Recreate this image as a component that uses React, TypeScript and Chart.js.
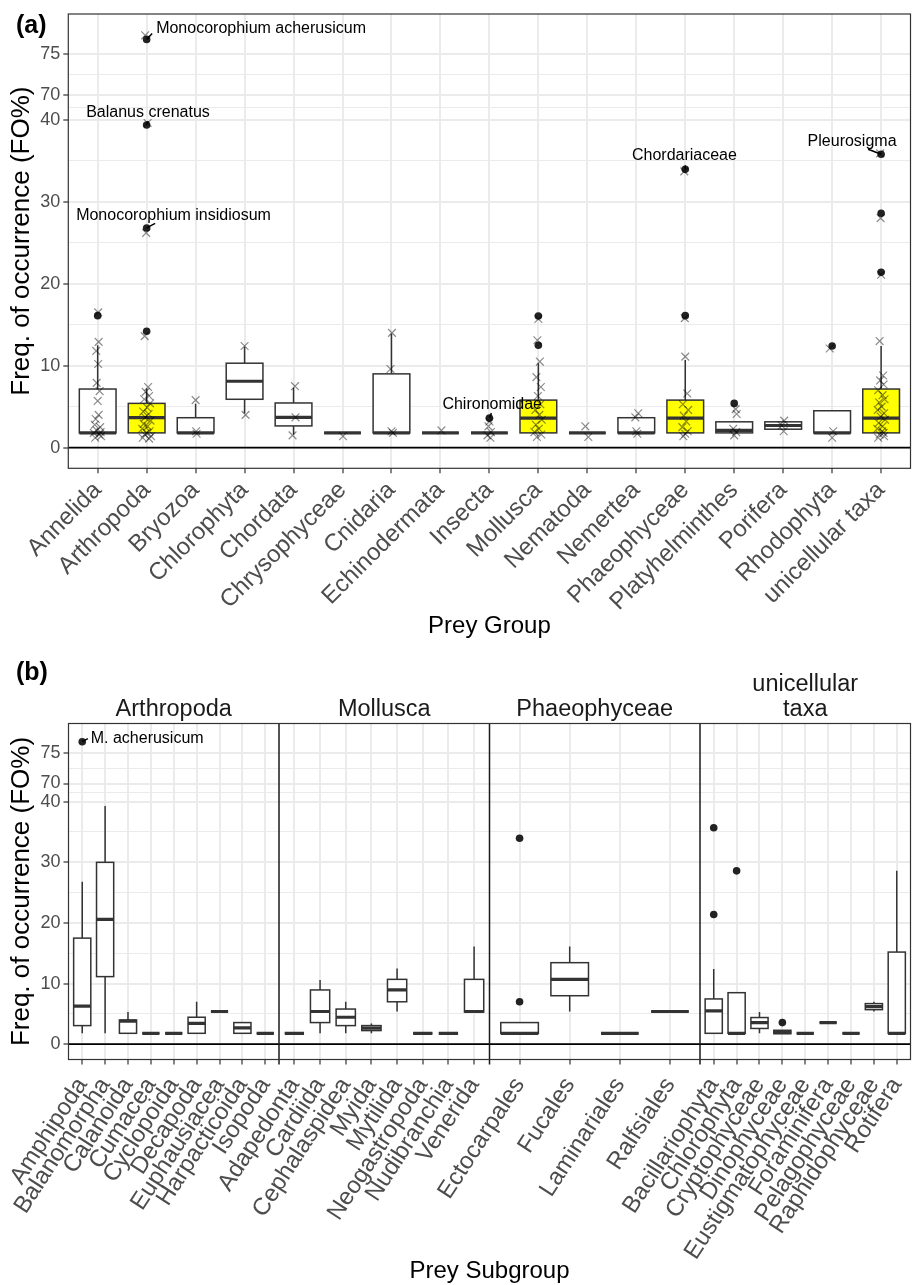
import React, { useEffect, useRef } from "react";
import { Chart, LinearScale, registerables } from "chart.js";

Chart.register(...registerables);

const FONT_FAMILY = "'Liberation Sans', Arial, Helvetica, sans-serif";
const TICK_COLOR = "#4D4D4D";
const GRID_COLOR = "#EBEBEB";
const FRAME_COLOR = "#333333";
const BOX_LINE = "#333333";
const HIGHLIGHT_FILL = "#FFFF00";
const PLAIN_FILL = "#FFFFFF";

// ---------- y axis: 40–70 is squeezed to a tenth of its length ----------
const BREAK_FROM = 40;
const BREAK_TO = 70;
const BREAK_SQUEEZE = 0.1;
const BREAK_TOP = BREAK_FROM + (BREAK_TO - BREAK_FROM) * BREAK_SQUEEZE;

function squeeze(v: number): number {
  if (v <= BREAK_FROM) return v;
  if (v < BREAK_TO) return BREAK_FROM + (v - BREAK_FROM) * BREAK_SQUEEZE;
  return BREAK_TOP + (v - BREAK_TO);
}
function unsqueeze(t: number): number {
  if (t <= BREAK_FROM) return t;
  if (t < BREAK_TOP) return BREAK_FROM + (t - BREAK_FROM) / BREAK_SQUEEZE;
  return BREAK_TO + (t - BREAK_TOP);
}

const Y_TICKS = [0, 10, 20, 30, 40, 70, 75];
const Y_MIN = -2.52;
const Y_MAX = 79.9;

class SqueezedScale extends LinearScale {
  static id = "squeezed";
  static defaults = {};
  determineDataLimits() {
    super.determineDataLimits();
    this.min = squeeze(this.min);
    this.max = squeeze(this.max);
  }
  buildTicks() {
    const ticks: any[] = [];
    Y_TICKS.forEach((v, i) => {
      ticks.push({ value: v });
      if (i < Y_TICKS.length - 1) {
        // minor line halfway between two majors on the drawn scale
        ticks.push({ value: unsqueeze((squeeze(v) + squeeze(Y_TICKS[i + 1])) / 2), minor: true });
      }
    });
    return ticks;
  }
  getPixelForValue(value: number) {
    return super.getPixelForValue(squeeze(value));
  }
  getValueForPixel(pixel: number) {
    return unsqueeze(super.getValueForPixel(pixel));
  }
}
Chart.register(SqueezedScale);

// ---------- (a) prey groups ----------
const GROUPS = [
  "Annelida", "Arthropoda", "Bryozoa", "Chlorophyta", "Chordata", "Chrysophyceae",
  "Cnidaria", "Echinodermata", "Insecta", "Mollusca", "Nematoda", "Nemertea",
  "Phaeophyceae", "Platyhelminthes", "Porifera", "Rhodophyta", "unicellular taxa",
];
const GROUPS_SPLIT = ["Arthropoda", "Mollusca", "Phaeophyceae", "unicellular taxa"];

const G_WHISKER_LO = [1.8, 1.8, 1.8, 4.2, 1.6, 1.8, 1.8, 1.8, 1.8, 1.8, 1.8, 1.8, 1.8, 1.8, 2.2, 1.8, 1.8];
const G_Q1 = [1.8, 1.8, 1.8, 5.9, 2.65, 1.8, 1.8, 1.8, 1.8, 1.8, 1.8, 1.8, 1.8, 1.8, 2.25, 1.8, 1.8];
const G_MEDIAN = [1.8, 3.65, 1.8, 8.1, 3.7, 1.8, 1.8, 1.8, 1.8, 3.6, 1.8, 1.8, 3.6, 2.1, 2.7, 1.8, 3.6];
const G_Q3 = [7.15, 5.4, 3.65, 10.3, 5.45, 1.8, 9.0, 1.8, 1.8, 5.8, 1.8, 3.65, 5.8, 3.15, 3.15, 4.5, 7.15];
const G_WHISKER_HI = [12.5, 7.2, 5.35, 12.3, 7.3, 1.8, 13.9, 1.8, 1.8, 10.3, 1.8, 3.65, 10.7, 3.15, 3.3, 4.5, 12.4];
const G_OUTLIERS = [
  [16.1], [14.2, 26.8, 39.35, 76.8], [], [], [], [], [], [], [3.6], [12.5, 16.05],
  [], [], [16.1, 33.95], [5.4], [], [12.4], [21.4, 28.6, 35.8],
];

// individual observations per group (FO%)
const G_POINTS = [
  [16.5, 12.9, 11.8, 10.2, 7.9, 6.9, 5.7, 4.0, 3.5, 2.8, 2.5, 2.1, 1.9, 1.8, 1.6, 1.4, 1.2],
  [77.3, 39.6, 26.2, 13.6, 7.4, 6.8, 6.3, 5.9, 5.4, 4.9, 4.4, 4.1, 3.7, 3.3, 2.9, 2.6, 2.3, 2.0, 1.8, 1.6, 1.4, 1.2, 1.1],
  [5.8, 2.0, 1.7],
  [12.4, 4.0],
  [7.5, 3.7, 1.5],
  [1.4],
  [14.0, 9.6, 2.0, 1.8],
  [2.1],
  [3.2, 2.6, 1.9, 1.5, 1.2],
  [15.7, 13.1, 10.5, 8.6, 7.4, 6.3, 5.3, 4.6, 4.0, 3.4, 2.8, 2.3, 1.9, 1.6, 1.3],
  [2.6, 1.3],
  [4.2, 3.7, 2.0, 1.7],
  [33.7, 15.8, 11.1, 6.6, 5.3, 4.6, 3.9, 3.2, 2.5, 2.0, 1.7, 1.4],
  [4.7, 4.1, 2.3, 1.9, 1.5],
  [3.3, 2.7, 2.0],
  [12.1, 2.0, 1.2],
  [35.9, 28.0, 21.1, 13.0, 8.8, 8.2, 7.7, 7.0, 6.4, 5.9, 5.5, 5.0, 4.6, 4.2, 3.8, 3.4, 3.0, 2.6, 2.3, 2.0, 1.8, 1.6, 1.4, 1.2],
];
// horizontal jitter of each observation, in category widths
const G_JITTER = [
  [0.01, 0.02, -0.03, 0.01, -0.02, 0.04, 0.0, 0.02, -0.04, -0.06, 0.05, -0.02, 0.06, -0.08, 0.03, 0.07, -0.05],
  [-0.03, 0.02, -0.01, -0.04, 0.03, -0.02, 0.05, -0.05, 0.07, 0.01, -0.07, 0.04, -0.03, 0.08, -0.06, 0.02, -0.09, 0.06, 0.0, -0.04, 0.09, -0.08, 0.05],
  [0.0, 0.01, 0.02],
  [0.0, 0.02],
  [0.03, 0.04, -0.02],
  [0.01],
  [0.01, -0.02, 0.0, 0.03],
  [0.02],
  [0.0, -0.02, 0.03, -0.04, 0.02],
  [0.0, -0.02, 0.03, -0.04, 0.05, -0.01, 0.04, -0.06, 0.02, 0.07, -0.05, 0.01, -0.08, 0.06, -0.03],
  [-0.04, 0.02],
  [0.04, -0.02, 0.0, 0.02],
  [-0.02, -0.01, 0.0, 0.04, -0.05, 0.06, -0.03, 0.02, -0.06, 0.05, 0.0, -0.04],
  [0.03, 0.05, -0.02, 0.04, 0.0],
  [0.02, -0.03, 0.01],
  [-0.05, 0.02, 0.0],
  [-0.02, -0.01, 0.0, -0.03, 0.04, -0.02, 0.05, -0.06, 0.03, 0.07, -0.04, 0.01, -0.07, 0.06, -0.01, 0.08, -0.05, 0.03, -0.08, 0.02, 0.05, -0.03, 0.06, -0.06],
];

// named outliers
const A_LABEL_TEXT = ["Monocorophium acherusicum", "Balanus crenatus", "Monocorophium insidiosum", "Chironomidae", "Chordariaceae", "Pleurosigma"];
const A_LABEL_GROUP = [1, 1, 1, 8, 12, 16];
const A_LABEL_VALUE = [76.8, 39.35, 26.8, 3.6, 33.95, 35.8];
// label placement relative to its point (px): text left/middle, leader end
const A_LABEL_DX = [9.5, -60.5, -70.5, -47, -53.3, -73.5];
const A_LABEL_DY = [-11, -12.7, -12.7, -13.3, -13.3, -12.6];
const A_LEADER_DX = [5.5, 1.5, 8.5, 2, 0, -13];
const A_LEADER_DY = [-6, -4, -4.5, -5, -4, -5];

// ---------- (b) prey subgroups within the four largest groups ----------
const FACETS = ["Arthropoda", "Mollusca", "Phaeophyceae", "unicellular taxa"];
const FACET_STRIPS = [["Arthropoda"], ["Mollusca"], ["Phaeophyceae"], ["unicellular", "taxa"]];
const SUBGROUPS = [
  ["Amphipoda", "Balanomorpha", "Calanoida", "Cumacea", "Cyclopoida", "Decapoda", "Euphausiacea", "Harpacticoida", "Isopoda"],
  ["Adapedonta", "Cardiida", "Cephalaspidea", "Myida", "Mytilida", "Neogastropoda", "Nudibranchia", "Venerida"],
  ["Ectocarpales", "Fucales", "Laminariales", "Ralfsiales"],
  ["Bacillariophyta", "Chlorophyta", "Cryptophyceae", "Dinophyceae", "Eustigmatophyceae", "Foraminifera", "Pelagophyceae", "Raphidophyceae", "Rotifera"],
];
const S_WHISKER_LO = [
  [1.8, 1.8, 1.8, 1.8, 1.8, 1.8, 5.4, 1.8, 1.8],
  [1.8, 1.8, 1.8, 1.8, 5.4, 1.8, 1.8, 5.3],
  [1.8, 5.4, 1.8, 5.4],
  [1.8, 1.8, 1.8, 1.75, 1.8, 3.57, 1.8, 5.4, 1.8],
];
const S_Q1 = [
  [3.07, 11.15, 1.8, 1.8, 1.8, 1.8, 5.4, 1.8, 1.8],
  [1.8, 3.57, 3.07, 2.25, 7.0, 1.8, 1.8, 5.3],
  [1.8, 8.0, 1.8, 5.4],
  [1.8, 1.8, 2.6, 1.75, 1.8, 3.57, 1.8, 5.7, 1.8],
];
const S_MEDIAN = [
  [6.3, 20.6, 3.8, 1.8, 1.8, 3.45, 5.4, 2.7, 1.8],
  [1.8, 5.4, 4.45, 2.65, 8.95, 1.8, 1.8, 5.4],
  [1.8, 10.7, 1.8, 5.4],
  [5.5, 1.8, 3.57, 1.9, 1.8, 3.57, 1.8, 6.2, 1.8],
];
const S_Q3 = [
  [17.5, 30.0, 4.0, 1.8, 1.8, 4.45, 5.4, 3.57, 1.8],
  [1.8, 8.95, 5.8, 3.07, 10.7, 1.8, 1.8, 10.7],
  [3.57, 13.45, 1.8, 5.4],
  [7.47, 8.5, 4.4, 2.3, 1.8, 3.57, 1.8, 6.7, 15.2],
];
const S_WHISKER_HI = [
  [26.8, 39.3, 5.3, 1.8, 1.8, 7.0, 5.4, 3.57, 1.8],
  [1.8, 10.6, 7.0, 3.4, 12.5, 1.8, 1.8, 16.1],
  [3.57, 16.1, 1.8, 5.4],
  [12.4, 8.5, 5.3, 2.3, 1.8, 3.57, 1.8, 7.0, 28.6],
];
const S_OUTLIERS = [
  [[76.9], [], [], [], [], [], [], [], []],
  [[], [], [], [], [], [], [], []],
  [[7.0, 33.97], [], [], []],
  [[21.4, 35.7], [28.6], [], [3.57], [], [], [], [], []],
];
const B_LABEL_TEXT = ["M. acherusicum"];
const B_LABEL_FACET = [0];
const B_LABEL_SUBGROUP = [0];
const B_LABEL_VALUE = [76.9];
const B_LABEL_DX = [8.5];
const B_LABEL_DY = [-3.4];
const B_LEADER_DX = [5.6];
const B_LEADER_DY = [-3];

// ---------- drawing helpers ----------
type Box = { pos: number; half: number; lo: number; q1: number; med: number; q3: number; hi: number; fill: string };
type Note = { x: number; y: number; text: string; dx: number; dy: number; lx: number; ly: number };

function clipToArea(chart: any) {
  const a = chart.chartArea;
  chart.ctx.beginPath();
  chart.ctx.rect(a.left, a.top, a.right - a.left, a.bottom - a.top);
  chart.ctx.clip();
}

function drawZeroLine(chart: any) {
  const { ctx, chartArea, scales } = chart;
  const y0 = scales.y.getPixelForValue(0);
  ctx.save();
  ctx.strokeStyle = "#000000";
  ctx.lineWidth = 1.8;
  ctx.beginPath();
  ctx.moveTo(chartArea.left, y0);
  ctx.lineTo(chartArea.right, y0);
  ctx.stroke();
  ctx.restore();
}

function drawBoxes(chart: any, boxes: Box[]) {
  const { ctx, scales } = chart;
  const x = scales.x;
  const y = scales.y;
  ctx.save();
  clipToArea(chart);
  ctx.strokeStyle = BOX_LINE;
  for (const b of boxes) {
    const cx = x.getPixelForValue(b.pos);
    const hw = x.getPixelForValue(b.pos + b.half) - cx;
    const yLo = y.getPixelForValue(b.lo);
    const yQ1 = y.getPixelForValue(b.q1);
    const yMed = y.getPixelForValue(b.med);
    const yQ3 = y.getPixelForValue(b.q3);
    const yHi = y.getPixelForValue(b.hi);
    ctx.lineWidth = 1.5;
    ctx.beginPath();
    ctx.moveTo(cx, yLo);
    ctx.lineTo(cx, yQ1);
    ctx.moveTo(cx, yQ3);
    ctx.lineTo(cx, yHi);
    ctx.stroke();
    ctx.fillStyle = b.fill;
    ctx.fillRect(cx - hw, yQ3, 2 * hw, yQ1 - yQ3);
    ctx.strokeRect(cx - hw, yQ3, 2 * hw, yQ1 - yQ3);
    ctx.lineWidth = 3.2;
    ctx.beginPath();
    ctx.moveTo(cx - hw, yMed);
    ctx.lineTo(cx + hw, yMed);
    ctx.stroke();
  }
  ctx.restore();
}

function drawNotes(chart: any, notes: Note[]) {
  const { ctx, scales } = chart;
  ctx.save();
  ctx.font = `16px ${FONT_FAMILY}`;
  ctx.fillStyle = "#000000";
  ctx.strokeStyle = "#000000";
  ctx.lineWidth = 1.5;
  ctx.textAlign = "left";
  ctx.textBaseline = "middle";
  for (const n of notes) {
    const px = scales.x.getPixelForValue(n.x);
    const py = scales.y.getPixelForValue(n.y);
    ctx.beginPath();
    ctx.moveTo(px, py);
    ctx.lineTo(px + n.lx, py + n.ly);
    ctx.stroke();
    ctx.fillText(n.text, px + n.dx, py + n.dy);
  }
  ctx.restore();
}

function drawFrame(chart: any) {
  const { ctx, chartArea } = chart;
  ctx.save();
  ctx.strokeStyle = FRAME_COLOR;
  ctx.lineWidth = 1.2;
  ctx.strokeRect(chartArea.left, chartArea.top, chartArea.right - chartArea.left, chartArea.bottom - chartArea.top);
  ctx.restore();
}

function drawTag(chart: any, tag: string, x: number, y: number) {
  const { ctx } = chart;
  ctx.save();
  ctx.font = `bold 25px ${FONT_FAMILY}`;
  ctx.fillStyle = "#000000";
  ctx.textAlign = "left";
  ctx.textBaseline = "alphabetic";
  ctx.fillText(tag, x, y);
  ctx.restore();
}

// keep the plotting area exactly where the layout puts it
function dropScalePadding(s: any) {
  s.paddingLeft = 0;
  s.paddingRight = 0;
  s.paddingTop = 0;
  s.paddingBottom = 0;
}

function yAxis(axisWidth: number) {
  return {
    type: "squeezed",
    position: "left",
    min: Y_MIN,
    max: Y_MAX,
    bounds: "data",
    afterFit: (s: any) => {
      s.width = axisWidth;
      dropScalePadding(s);
    },
    ticks: {
      autoSkip: false,
      padding: 3,
      color: TICK_COLOR,
      font: { family: FONT_FAMILY, size: 18 },
      callback: (v: number, i: number, ticks: any[]) => (ticks[i].minor ? "" : String(v)),
    },
    grid: {
      color: GRID_COLOR,
      lineWidth: (c: any) => (c.tick && c.tick.minor ? 1.1 : 2),
      tickColor: (c: any) => (c.tick && c.tick.minor ? "rgba(0,0,0,0)" : FRAME_COLOR),
      tickWidth: 1.2,
      tickLength: 5,
    },
    border: { display: false },
    title: {
      display: true,
      text: "Freq. of occurrence (FO%)",
      color: "#000000",
      font: { family: FONT_FAMILY, size: 26 },
      padding: { top: 6.4, bottom: 0 },
    },
  };
}

function xAxis(opts: {
  min: number;
  max: number;
  positions: number[];
  labels: string[];
  rotation: number;
  height: number;
  title: string;
  titlePad: number;
  tickPad: number;
}) {
  return {
    type: "linear",
    position: "bottom",
    min: opts.min,
    max: opts.max,
    bounds: "data",
    afterBuildTicks: (s: any) => {
      s.ticks = opts.positions.map((p) => ({ value: p }));
    },
    afterFit: (s: any) => {
      s.height = opts.height;
      dropScalePadding(s);
    },
    ticks: {
      autoSkip: false,
      minRotation: opts.rotation,
      maxRotation: opts.rotation,
      padding: opts.tickPad,
      color: TICK_COLOR,
      font: { family: FONT_FAMILY, size: 24 },
      callback: (_v: number, i: number) => opts.labels[i],
    },
    grid: {
      color: GRID_COLOR,
      lineWidth: 2,
      tickColor: FRAME_COLOR,
      tickWidth: 1.2,
      tickLength: 5,
    },
    border: { display: false },
    title: {
      display: true,
      text: opts.title,
      color: "#000000",
      font: { family: FONT_FAMILY, size: 24 },
      padding: { top: 0, bottom: opts.titlePad },
    },
  };
}

function useChart(build: (canvas: HTMLCanvasElement) => Chart) {
  const ref = useRef<HTMLCanvasElement | null>(null);
  useEffect(() => {
    if (!ref.current) return;
    const chart = build(ref.current);
    return () => chart.destroy();
  }, []);
  return ref;
}

// ---------- panel (a) ----------
const A_W = 912;
const A_H = 650;

function buildPanelA(canvas: HTMLCanvasElement) {
  const boxes: Box[] = GROUPS.map((g, i) => ({
    pos: i,
    half: 0.375,
    lo: G_WHISKER_LO[i],
    q1: G_Q1[i],
    med: G_MEDIAN[i],
    q3: G_Q3[i],
    hi: G_WHISKER_HI[i],
    fill: GROUPS_SPLIT.includes(g) ? HIGHLIGHT_FILL : PLAIN_FILL,
  }));
  const observations = G_POINTS.flatMap((vals, i) => vals.map((v, j) => ({ x: i + G_JITTER[i][j], y: v })));
  const outliers = G_OUTLIERS.flatMap((vals, i) => vals.map((v) => ({ x: i, y: v })));
  const notes: Note[] = A_LABEL_TEXT.map((t, k) => ({
    x: A_LABEL_GROUP[k],
    y: A_LABEL_VALUE[k],
    text: t,
    dx: A_LABEL_DX[k],
    dy: A_LABEL_DY[k],
    lx: A_LEADER_DX[k],
    ly: A_LEADER_DY[k],
  }));

  return new Chart(canvas, {
    type: "scatter",
    data: {
      datasets: [
        {
          label: "observations",
          data: observations,
          pointStyle: "crossRot",
          pointRadius: 5.5,
          borderColor: "rgba(0,0,0,0.45)",
          backgroundColor: "rgba(0,0,0,0)",
          borderWidth: 1.2,
        },
        {
          label: "outliers",
          data: outliers,
          pointStyle: "circle",
          pointRadius: 3.8,
          backgroundColor: "#222222",
          borderWidth: 0,
        },
      ],
    },
    options: {
      responsive: false,
      animation: false,
      devicePixelRatio: 1,
      events: [],
      layout: { autoPadding: false, padding: { top: 14, left: 0, right: 1.5, bottom: 0 } },
      plugins: { legend: { display: false }, tooltip: { enabled: false } },
      scales: {
        x: xAxis({
          min: -0.6,
          max: GROUPS.length - 0.4,
          positions: GROUPS.map((_, i) => i),
          labels: GROUPS,
          rotation: 45,
          height: A_H - 468.3,
          title: "Prey Group",
          titlePad: 9.6,
          tickPad: 3,
        }),
        y: yAxis(68.3),
      },
    } as any,
    plugins: [
      {
        id: "panelA",
        beforeDatasetsDraw(chart: any) {
          drawZeroLine(chart);
          drawBoxes(chart, boxes);
        },
        afterDatasetsDraw(chart: any) {
          drawNotes(chart, notes);
        },
        afterDraw(chart: any) {
          drawFrame(chart);
          drawTag(chart, "(a)", 16, 33);
        },
      },
    ],
  });
}

// ---------- panel (b) ----------
const B_W = 912;
const B_H = 636;
const B_TOP = 650;

// each facet takes one unit of x; categories sit inside with 0.6 padding on both sides
function subgroupPos(f: number, j: number) {
  const n = SUBGROUPS[f].length;
  return f + (j + 0.6) / (n + 0.2);
}

function buildPanelB(canvas: HTMLCanvasElement) {
  const positions: number[] = [];
  const labels: string[] = [];
  const boxes: Box[] = [];
  const outliers: { x: number; y: number }[] = [];
  SUBGROUPS.forEach((subs, f) => {
    subs.forEach((name, j) => {
      const p = subgroupPos(f, j);
      positions.push(p);
      labels.push(name);
      boxes.push({
        pos: p,
        half: 0.375 / (subs.length + 0.2),
        lo: S_WHISKER_LO[f][j],
        q1: S_Q1[f][j],
        med: S_MEDIAN[f][j],
        q3: S_Q3[f][j],
        hi: S_WHISKER_HI[f][j],
        fill: PLAIN_FILL,
      });
      S_OUTLIERS[f][j].forEach((v) => outliers.push({ x: p, y: v }));
    });
  });
  const notes: Note[] = B_LABEL_TEXT.map((t, k) => ({
    x: subgroupPos(B_LABEL_FACET[k], B_LABEL_SUBGROUP[k]),
    y: B_LABEL_VALUE[k],
    text: t,
    dx: B_LABEL_DX[k],
    dy: B_LABEL_DY[k],
    lx: B_LEADER_DX[k],
    ly: B_LEADER_DY[k],
  }));

  return new Chart(canvas, {
    type: "scatter",
    data: {
      datasets: [
        {
          label: "outliers",
          data: outliers,
          pointStyle: "circle",
          pointRadius: 3.8,
          backgroundColor: "#222222",
          borderWidth: 0,
        },
      ],
    },
    options: {
      responsive: false,
      animation: false,
      devicePixelRatio: 1,
      events: [],
      layout: { autoPadding: false, padding: { top: 723.5 - B_TOP, left: 0, right: 1.5, bottom: 0 } },
      plugins: { legend: { display: false }, tooltip: { enabled: false } },
      scales: {
        x: xAxis({
          min: 0,
          max: FACETS.length,
          positions,
          labels,
          rotation: 57,
          height: B_H - (1059.5 - B_TOP),
          title: "Prey Subgroup",
          titlePad: 0,
          tickPad: 8,
        }),
        y: yAxis(68.5),
      },
    } as any,
    plugins: [
      {
        id: "panelB",
        beforeDatasetsDraw(chart: any) {
          drawZeroLine(chart);
          drawBoxes(chart, boxes);
        },
        afterDatasetsDraw(chart: any) {
          drawNotes(chart, notes);
        },
        afterDraw(chart: any) {
          const { ctx, chartArea, scales } = chart;
          ctx.save();
          // facet dividers
          ctx.strokeStyle = "#1A1A1A";
          ctx.lineWidth = 1.5;
          for (let f = 1; f < FACETS.length; f++) {
            const px = scales.x.getPixelForValue(f);
            ctx.beginPath();
            ctx.moveTo(px, chartArea.top);
            ctx.lineTo(px, chartArea.bottom + 5);
            ctx.stroke();
          }
          // strip titles
          ctx.font = `23.5px ${FONT_FAMILY}`;
          ctx.fillStyle = "#1A1A1A";
          ctx.textAlign = "center";
          ctx.textBaseline = "middle";
          FACET_STRIPS.forEach((lines, f) => {
            const cx = scales.x.getPixelForValue(f + 0.5);
            lines.forEach((line, li) => {
              const fromBottom = lines.length - 1 - li;
              ctx.fillText(line, cx, chartArea.top - 14 - fromBottom * 25);
            });
          });
          ctx.restore();
          drawFrame(chart);
          drawTag(chart, "(b)", 16, 30);
        },
      },
    ],
  });
}

function PanelA() {
  const ref = useChart(buildPanelA);
  return (
    <canvas
      ref={ref}
      width={A_W}
      height={A_H}
      style={{ position: "absolute", left: 0, top: 0, width: A_W, height: A_H, display: "block" }}
    />
  );
}

function PanelB() {
  const ref = useChart(buildPanelB);
  return (
    <canvas
      ref={ref}
      width={B_W}
      height={B_H}
      style={{ position: "absolute", left: 0, top: B_TOP, width: B_W, height: B_H, display: "block" }}
    />
  );
}

export default function App() {
  return (
    <div
      style={{
        position: "absolute",
        left: 0,
        top: 0,
        width: 912,
        height: 1285,
        overflow: "hidden",
        background: "#FFFFFF",
      }}
    >
      <PanelA />
      <PanelB />
    </div>
  );
}
